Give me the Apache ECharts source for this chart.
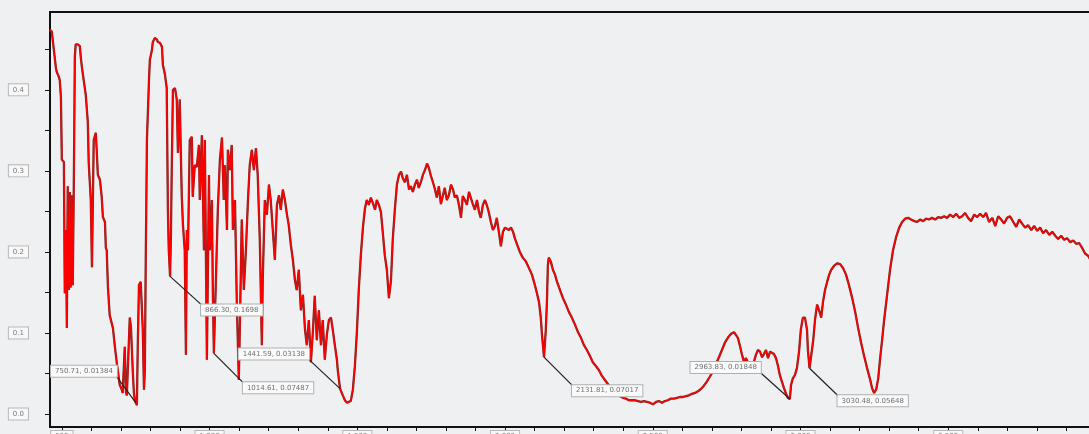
<!DOCTYPE html>
<html>
<head>
<meta charset="utf-8">
<script src="https://cdn.jsdelivr.net/npm/echarts@6/dist/echarts.min.js"></script>
<style>
  html, body { margin: 0; padding: 0; background: #eff0f2; }
  #chart { width: 1089px; height: 434px; }
</style>
</head>
<body>
<div id="chart"></div>
<script>
// Absorbance spectrum: [wavelength (nm), absorbance]
const spectrum = [
  [459,0.474],[466,0.472],[470,0.459],[476,0.457],[480,0.427],[483,0.422],[490,0.416],[493,0.412],
  [497,0.391],[500,0.314],[507,0.311],[510,0.149],[514,0.227],[517,0.106],[520,0.281],[524,0.153],
  [527,0.274],[530,0.156],[534,0.270],[537,0.159],[541,0.299],[544,0.441],[547,0.456],[554,0.456],
  [561,0.454],[564,0.441],[568,0.428],[574,0.412],[581,0.394],[588,0.360],[591,0.310],[598,0.264],
  [602,0.181],[605,0.181],[608,0.338],[615,0.347],[618,0.326],[622,0.295],[629,0.289],[635,0.268],
  [639,0.243],[646,0.237],[649,0.205],[652,0.202],[656,0.157],[662,0.122],[673,0.106],[679,0.085],
  [686,0.063],[690,0.052],[696,0.036],[703,0.030],[706,0.026],[713,0.083],[717,0.027],[720,0.023],
  [723,0.021],[730,0.119],[734,0.107],[740,0.054],[744,0.026],[747,0.017],[754,0.011],[757,0.083],
  [761,0.159],[767,0.163],[771,0.165],[774,0.104],[778,0.030],[781,0.054],[784,0.188],[788,0.338],
  [795,0.412],[798,0.437],[805,0.449],[808,0.459],[815,0.464],[822,0.462],[825,0.459],[832,0.458],
  [835,0.456],[839,0.453],[842,0.431],[849,0.419],[855,0.402],[859,0.252],[862,0.202],[869,0.215],
  [872,0.301],[876,0.400],[883,0.402],[889,0.388],[893,0.322],[899,0.388],[906,0.268],[910,0.233],
  [916,0.202],[920,0.073],[923,0.227],[927,0.202],[933,0.338],[940,0.342],[943,0.268],[950,0.307],
  [957,0.305],[964,0.332],[967,0.264],[974,0.344],[981,0.202],[984,0.338],[991,0.067],[998,0.295],
  [1001,0.202],[1008,0.264],[1011,0.153],[1028,0.252],[1035,0.314],[1042,0.341],[1048,0.264],
  [1052,0.307],[1059,0.227],[1062,0.326],[1069,0.301],[1075,0.332],[1079,0.227],[1086,0.264],
  [1092,0.141],[1099,0.042],[1103,0.116],[1109,0.240],[1116,0.153],[1123,0.202],[1130,0.264],
  [1136,0.307],[1143,0.326],[1150,0.301],[1157,0.328],[1163,0.295],[1170,0.215],[1177,0.085],
  [1180,0.165],[1187,0.264],[1194,0.246],[1201,0.283],[1207,0.264],[1214,0.227],[1221,0.190],
  [1228,0.258],[1235,0.270],[1241,0.252],[1248,0.277],[1255,0.264],[1262,0.246],[1268,0.233],
  [1275,0.209],[1282,0.190],[1289,0.165],[1295,0.153],[1302,0.178],[1309,0.128],[1316,0.147],
  [1323,0.104],[1329,0.085],[1336,0.116],[1343,0.064],[1350,0.104],[1356,0.146],[1363,0.091],
  [1370,0.128],[1377,0.085],[1383,0.116],[1390,0.067],[1397,0.098],[1404,0.116],[1411,0.119],
  [1417,0.104],[1424,0.085],[1431,0.067],[1434,0.054],[1451,0.023],[1458,0.017],[1465,0.014],
  [1471,0.012],[1478,0.016],[1485,0.030],[1492,0.060],[1499,0.104],[1505,0.153],[1512,0.196],
  [1519,0.230],[1526,0.254],[1532,0.264],[1539,0.258],[1546,0.267],[1553,0.260],[1560,0.252],
  [1566,0.264],[1573,0.258],[1580,0.249],[1587,0.221],[1593,0.196],[1600,0.178],[1607,0.143],
  [1614,0.165],[1620,0.215],[1627,0.252],[1634,0.283],[1641,0.295],[1648,0.299],[1654,0.291],
  [1661,0.286],[1668,0.295],[1675,0.277],[1681,0.281],[1688,0.274],[1695,0.283],[1702,0.289],
  [1708,0.279],[1715,0.286],[1722,0.295],[1729,0.301],[1736,0.309],[1742,0.304],[1749,0.294],
  [1756,0.286],[1763,0.277],[1769,0.267],[1776,0.281],[1783,0.259],[1790,0.270],[1796,0.279],
  [1803,0.264],[1810,0.270],[1817,0.283],[1824,0.277],[1830,0.267],[1837,0.270],[1844,0.258],
  [1851,0.242],[1857,0.269],[1864,0.264],[1871,0.258],[1878,0.274],[1884,0.267],[1891,0.259],
  [1898,0.252],[1905,0.264],[1912,0.249],[1918,0.242],[1925,0.258],[1932,0.264],[1939,0.257],
  [1945,0.249],[1952,0.237],[1959,0.227],[1966,0.232],[1972,0.242],[1979,0.225],[1986,0.207],
  [1993,0.225],[2000,0.230],[2006,0.232],[2013,0.227],[2020,0.230],[2027,0.225],[2033,0.217],
  [2040,0.210],[2050,0.200],[2060,0.193],[2071,0.188],[2081,0.180],[2091,0.172],[2101,0.159],
  [2108,0.149],[2115,0.138],[2121,0.119],[2125,0.098],[2138,0.104],[2142,0.141],[2145,0.184],
  [2148,0.193],[2155,0.188],[2162,0.178],[2169,0.172],[2176,0.163],[2186,0.153],[2196,0.143],
  [2206,0.135],[2216,0.126],[2226,0.119],[2237,0.110],[2247,0.101],[2257,0.094],[2267,0.085],
  [2277,0.079],[2287,0.072],[2297,0.064],[2308,0.059],[2318,0.054],[2328,0.047],[2338,0.042],
  [2348,0.037],[2358,0.032],[2369,0.030],[2379,0.026],[2389,0.022],[2399,0.020],[2409,0.019],
  [2419,0.017],[2429,0.017],[2440,0.017],[2450,0.016],[2460,0.015],[2470,0.016],[2480,0.015],
  [2490,0.014],[2501,0.012],[2511,0.015],[2521,0.016],[2531,0.014],[2541,0.016],[2551,0.017],
  [2561,0.019],[2572,0.019],[2582,0.020],[2592,0.021],[2602,0.021],[2612,0.022],[2622,0.023],
  [2633,0.025],[2643,0.026],[2653,0.028],[2663,0.031],[2673,0.035],[2683,0.040],[2693,0.046],
  [2704,0.053],[2714,0.062],[2724,0.070],[2734,0.079],[2744,0.088],[2754,0.094],[2765,0.099],
  [2775,0.101],[2781,0.100],[2788,0.094],[2795,0.084],[2802,0.073],[2809,0.064],[2815,0.069],
  [2822,0.064],[2829,0.059],[2836,0.054],[2842,0.064],[2849,0.073],[2856,0.079],[2863,0.077],
  [2870,0.070],[2876,0.074],[2883,0.079],[2890,0.069],[2897,0.077],[2903,0.079],[2910,0.074],
  [2917,0.069],[2924,0.059],[2930,0.048],[2937,0.040],[2944,0.032],[2951,0.025],[2957,0.020],
  [2968,0.036],[2974,0.044],[2981,0.048],[2988,0.057],[2995,0.077],[3001,0.104],[3008,0.119],
  [3015,0.119],[3022,0.104],[3025,0.079],[3043,0.091],[3049,0.116],[3056,0.135],[3063,0.128],
  [3070,0.119],[3076,0.138],[3083,0.153],[3090,0.163],[3097,0.172],[3104,0.178],[3114,0.183],
  [3124,0.186],[3134,0.185],[3144,0.180],[3154,0.172],[3164,0.159],[3175,0.143],[3185,0.126],
  [3195,0.106],[3205,0.088],[3215,0.072],[3225,0.057],[3236,0.042],[3242,0.032],[3249,0.026],
  [3256,0.030],[3263,0.044],[3269,0.067],[3276,0.091],[3283,0.116],[3293,0.147],[3303,0.178],
  [3313,0.202],[3324,0.219],[3334,0.230],[3344,0.237],[3354,0.241],[3364,0.242],[3374,0.240],
  [3385,0.238],[3395,0.237],[3405,0.240],[3415,0.238],[3425,0.241],[3435,0.240],[3445,0.242],
  [3456,0.240],[3466,0.243],[3476,0.242],[3486,0.244],[3496,0.242],[3506,0.246],[3517,0.243],
  [3527,0.247],[3537,0.242],[3547,0.244],[3557,0.248],[3567,0.242],[3577,0.238],[3588,0.246],
  [3598,0.243],[3608,0.247],[3618,0.243],[3628,0.248],[3638,0.237],[3649,0.242],[3659,0.232],
  [3669,0.244],[3679,0.240],[3689,0.235],[3699,0.242],[3709,0.244],[3720,0.237],[3730,0.231],
  [3740,0.240],[3750,0.235],[3760,0.230],[3770,0.233],[3781,0.227],[3791,0.232],[3801,0.226],
  [3811,0.230],[3821,0.223],[3831,0.227],[3842,0.221],[3852,0.225],[3862,0.220],[3872,0.216],
  [3882,0.220],[3892,0.215],[3902,0.217],[3913,0.212],[3923,0.214],[3933,0.210],[3943,0.211],
  [3953,0.205],[3963,0.198],[3974,0.195],[3984,0.188],[3997,0.190]
];

// Picked minima: [wavelength, absorbance]
const peaks = [
  [750.71, 0.01384],
  [866.30, 0.1698],
  [1014.61, 0.07487],
  [1441.59, 0.03138],
  [2131.81, 0.07017],
  [2963.83, 0.01848],
  [3030.48, 0.05648]
];

// Leader line offsets (px) and which corner of the tag sits on the leader end
const peakTags = [
  { dx: -19, dy: -26, corner: 'rb' },
  { dx: 31, dy: 28, corner: 'lt' },
  { dx: 29, dy: 29, corner: 'lt' },
  { dx: -31, dy: -29, corner: 'rb' },
  { dx: 28, dy: 28, corner: 'lt' },
  { dx: -29, dy: -26, corner: 'rb' },
  { dx: 28, dy: 27, corner: 'lt' }
];

const xLabelValues = [500, 1000, 1500, 2000, 2500, 3000, 3500];
const yLabelValues = [0, 0.1, 0.2, 0.3, 0.4];

const xTickValues = [];
for (let v = 500; v <= 3900; v += 100) xTickValues.push(v);
const yTickValues = [];
for (let i = 0; i <= 9; i++) yTickValues.push(+(i * 0.05).toFixed(2));

const lineData = spectrum.concat(peaks).sort((a, b) => a[0] - b[0]);

const chart = echarts.init(document.getElementById('chart'), null, { renderer: 'canvas' });

const boxLabel = {
  fontFamily: 'DejaVu Sans',
  fontSize: 7,
  color: '#7a7a7a',
  backgroundColor: '#f8f8f8',
  borderColor: '#b8b8b8',
  borderWidth: 1,
  padding: [2, 4]
};

chart.setOption({
  animation: false,
  backgroundColor: '#eff0f2',
  grid: {
    left: 50, top: 12, right: -7, bottom: 7,
    outerBoundsMode: 'none',
    containLabel: false,
    show: true, borderColor: '#111', borderWidth: 2, backgroundColor: 'transparent'
  },
  xAxis: {
    type: 'value',
    min: 460, max: 4000,
    axisLine: { show: true, onZero: false, lineStyle: { color: '#111', width: 2 } },
    axisTick: { show: true, customValues: xTickValues, length: 4, lineStyle: { color: '#111', width: 1 } },
    axisLabel: Object.assign({
      customValues: xLabelValues,
      margin: 4,
      formatter: v => v >= 1000 ? String(v).replace(/(\d)(\d{3})$/, '$1,$2') : String(v)
    }, boxLabel),
    splitLine: { show: false }
  },
  yAxis: {
    type: 'value',
    min: -0.016, max: 0.496,
    axisLine: { show: true, onZero: false, lineStyle: { color: '#111', width: 1.5 } },
    axisTick: { show: true, customValues: yTickValues, length: 5, lineStyle: { color: '#111', width: 1 } },
    axisLabel: Object.assign({
      customValues: yLabelValues,
      margin: 22,
      formatter: v => v.toFixed(1)
    }, boxLabel),
    splitLine: { show: false }
  },
  series: [
    {
      type: 'line',
      data: lineData,
      showSymbol: false,
      silent: true,
      lineStyle: { color: '#7d2a2a', width: 2.3 },
      z: 2
    },
    {
      type: 'line',
      data: lineData,
      showSymbol: false,
      silent: true,
      lineStyle: { color: '#ff0000', width: 1.4 },
      z: 3
    }
  ]
});

// Leader lines and value tags for the picked points
const graphics = [];
peaks.forEach((p, i) => {
  const pt = chart.convertToPixel({ gridIndex: 0 }, p);
  const tag = peakTags[i];
  const ex = pt[0] + tag.dx, ey = pt[1] + tag.dy;
  graphics.push({
    type: 'line',
    shape: { x1: pt[0], y1: pt[1], x2: ex, y2: ey },
    style: { stroke: '#222', lineWidth: 1.2 },
    z: 10
  });
  graphics.push({
    type: 'text',
    x: ex, y: ey,
    z: 11,
    style: {
      text: p[0].toFixed(2) + ', ' + String(p[1]),
      font: '7px "DejaVu Sans"',
      fill: '#6f6f6f',
      align: tag.corner === 'rb' ? 'right' : 'left',
      verticalAlign: tag.corner === 'rb' ? 'bottom' : 'top',
      backgroundColor: '#fafafa',
      borderColor: '#b0b0b0',
      borderWidth: 1,
      padding: [2, 4]
    }
  });
});
chart.setOption({ graphic: graphics });
</script>
</body>
</html>
